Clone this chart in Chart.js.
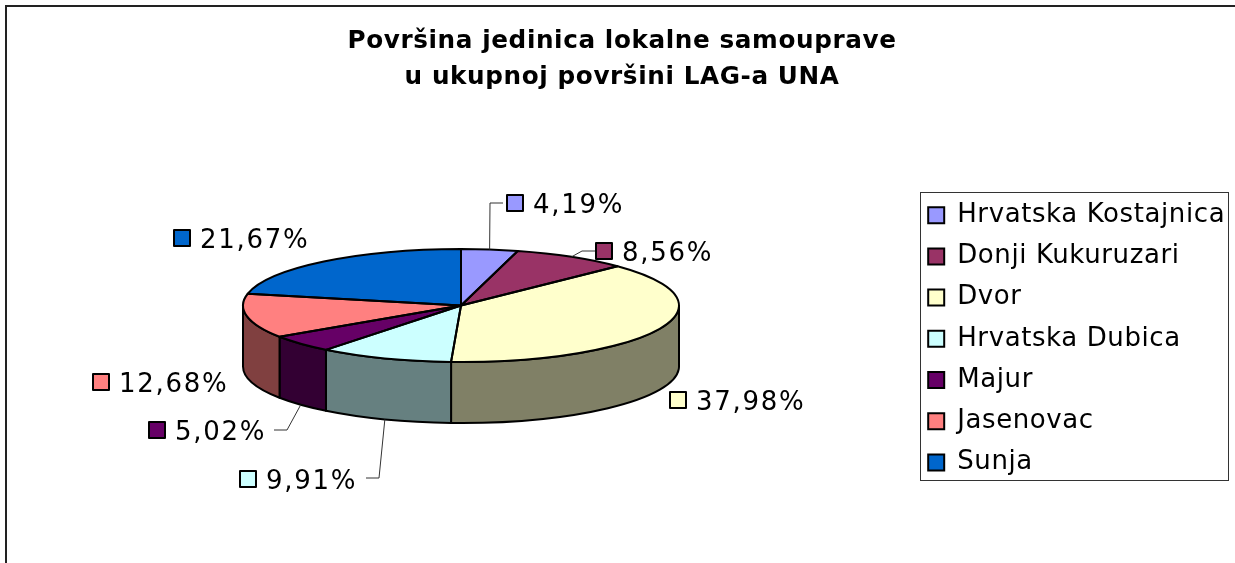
<!DOCTYPE html>
<html lang="hr">
<head>
<meta charset="UTF-8">
<title>Površina jedinica lokalne samouprave</title>
<script src="https://cdn.jsdelivr.net/npm/chart.js@4/dist/chart.umd.min.js"></script>
<style>
    html,body{margin:0;padding:0;background:#fff;}
    #box{display:block;}
</style>
</head>
<body>
<canvas id="box" width="1235" height="563"></canvas>
<script>
const categories = ["Hrvatska Kostajnica","Donji Kukuruzari","Dvor","Hrvatska Dubica","Majur","Jasenovac","Sunja"];
const shares = [4.19,8.56,37.98,9.91,5.02,12.68,21.67];
const titleLines = ["Površina jedinica lokalne samouprave","u ukupnoj površini LAG-a UNA"];

const topColors = ["#9999FF","#993366","#FFFFCC","#CCFFFF","#660066","#FF8080","#0066CC"];
const wallColors = ["#4D4D80","#4D1A33","#808066","#668080","#330033","#804040","#003366"];

// where the percent labels sit (marker left, marker top), leader = elbow points
const labelSpots = [
    {x:507,y:195,leader:[[490,203],[503,203]]},
    {x:596,y:243,leader:[[582,251],[596,251]]},
    {x:670,y:392},
    {x:240,y:471,leader:[[379,478],[366,478]]},
    {x:149,y:422,leader:[[287,430],[274,430]]},
    {x:93,y:374},
    {x:174,y:230}
];

const FONT = "DejaVu Sans";
const CX = 461, CY = 305.5, RX = 218, RY = 56.5, DEPTH = 61; // 3d pie shape

function ellipsePoint(a){
    return [CX + RX*Math.cos(a), CY + RY*Math.sin(a)];
}

const pie3d = {
    id:"pie3d",
    beforeDraw(chart){
        chart.ctx.letterSpacing = "0.6px";
        // frame, only top and left are in the picture
        const ctx = chart.ctx;
        ctx.save();
        ctx.strokeStyle = "#222";
        ctx.lineWidth = 2;
        ctx.beginPath();
        ctx.moveTo(6,563); ctx.lineTo(6,6); ctx.lineTo(1235,6);
        ctx.stroke();
        ctx.strokeStyle = "#333";
        ctx.lineWidth = 1;
        ctx.strokeRect(920.5,192.5,308,288);
        ctx.restore();
    },
    afterLayout(chart){
        const lg = chart.legend;
        lg.left = 913; lg.right = 1228; lg.top = 187; lg.bottom = 563;
        const t = chart.titleBlock;
        t.left = 10; t.right = 1234;
    },
    beforeDatasetDraw(chart,args){
        const ctx = chart.ctx;
        const arcs = args.meta.data;
        ctx.save();
        ctx.lineJoin = "round";
        ctx.strokeStyle = "#000";
        ctx.lineWidth = 2;

        // walls, only the part facing the viewer
        arcs.forEach(function(arc,i){
            const a0 = Math.max(arc.startAngle,0);
            const a1 = Math.min(arc.endAngle,Math.PI);
            if(a1<=a0) return;
            ctx.beginPath();
            ctx.ellipse(CX,CY,RX,RY,0,a0,a1);
            ctx.ellipse(CX,CY+DEPTH,RX,RY,0,a1,a0,true);
            ctx.closePath();
            ctx.fillStyle = wallColors[i];
            ctx.fill();
            ctx.stroke();
        });

        // top face, library arcs squeezed to the ellipse
        arcs.forEach(function(arc){
            ctx.save();
            ctx.translate(CX,CY);
            ctx.scale(RX/arc.outerRadius,RY/arc.outerRadius);
            ctx.translate(-arc.x,-arc.y);
            arc.draw(ctx);
            ctx.restore();
        });
        arcs.forEach(function(arc){
            ctx.beginPath();
            ctx.moveTo(CX,CY);
            ctx.ellipse(CX,CY,RX,RY,0,arc.startAngle,arc.endAngle);
            ctx.closePath();
            ctx.stroke();
        });

        // percent labels
        arcs.forEach(function(arc,i){
            const spot = labelSpots[i];
            if(spot.leader){
                const mid = (arc.startAngle+arc.endAngle)/2;
                const p = ellipsePoint(mid);
                const front = Math.sin(mid)>0;
                ctx.beginPath();
                ctx.moveTo(p[0],p[1]+(front?DEPTH:0));
                spot.leader.forEach(function(q){ ctx.lineTo(q[0],q[1]); });
                ctx.lineWidth = 1;
                ctx.strokeStyle = "#333";
                ctx.stroke();
            }
            ctx.fillStyle = topColors[i];
            ctx.strokeStyle = "#000";
            ctx.lineWidth = 2;
            ctx.fillRect(spot.x,spot.y,16,16);
            ctx.strokeRect(spot.x,spot.y,16,16);
            ctx.fillStyle = "#000";
            ctx.font = "26px '"+FONT+"'";
            ctx.letterSpacing = "1.7px";
            ctx.textAlign = "left";
            ctx.textBaseline = "alphabetic";
            ctx.fillText(shares[i].toFixed(2).replace(".",",")+"%",spot.x+26,spot.y+18);
        });
        ctx.letterSpacing = "0.6px";
        ctx.restore();
        return false;
    }
};

new Chart(document.getElementById("box"),{
    type:"pie",
    plugins:[pie3d],
    data:{
        labels:categories,
        datasets:[{data:shares,backgroundColor:topColors,borderWidth:0}]
    },
    options:{
        responsive:false,
        animation:false,
        plugins:{
            tooltip:{enabled:false},
            title:{
                display:true,
                text:titleLines,
                color:"#000",
                font:{family:FONT,size:24.7,weight:"bold",lineHeight:1.44},
                padding:{top:24,bottom:10}
            },
            legend:{
                position:"right",
                align:"start",
                labels:{
                    color:"#000",
                    font:{family:FONT,size:26},
                    boxWidth:16,
                    boxHeight:16,
                    padding:15.2,
                    generateLabels(chart){
                        return categories.map(function(c,i){
                            return {text:c,fillStyle:topColors[i],strokeStyle:"#000",lineWidth:2,index:i};
                        });
                    }
                }
            }
        }
    }
});
</script>
</body>
</html>
